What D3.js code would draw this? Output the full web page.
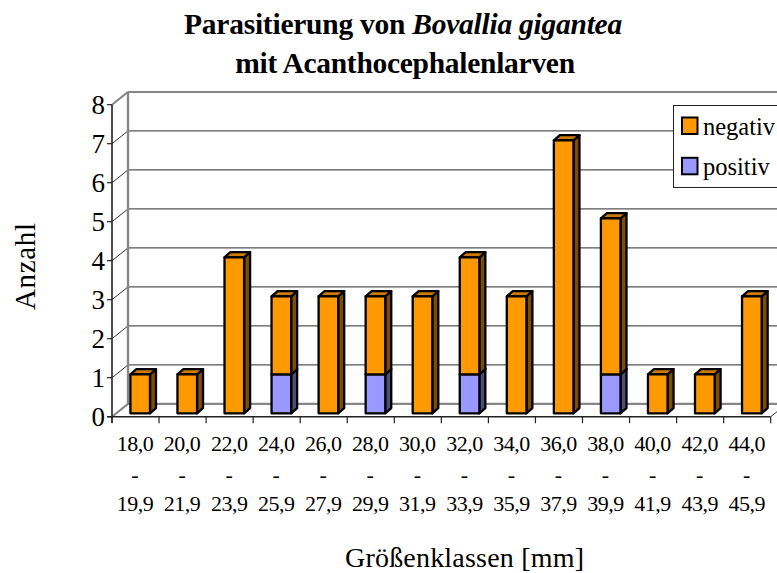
<!DOCTYPE html>
<html><head><meta charset="utf-8">
<script src="https://d3js.org/d3.v7.min.js"></script>
<style>html,body{margin:0;padding:0;background:#fff;overflow:hidden}svg{display:block}text{font-family:"Liberation Serif",serif;fill:#000}</style>
</head><body><div id="c"></div>
<script>
const lower = ["18,0","20,0","22,0","24,0","26,0","28,0","30,0","32,0","34,0","36,0","38,0","40,0","42,0","44,0"];
const upper = ["19,9","21,9","23,9","25,9","27,9","29,9","31,9","33,9","35,9","37,9","39,9","41,9","43,9","45,9"];
const negativ = [1,1,4,2,3,2,3,3,3,7,4,1,1,3];
const positiv = [0,0,0,1,0,1,0,1,0,0,1,0,0,0];
const yTicks = [0,1,2,3,4,5,6,7,8];
const seriesNames = ["negativ","positiv"];

const W=777,H=573;
const svg=d3.select("#c").append("svg").attr("width",W).attr("height",H);
const x=d3.scaleBand().domain(lower).range([112,770.7]);
const y=d3.scaleLinear().domain([0,8]).range([416.7,104.7]);
const wall={dx:16,dy:-12.8}, barD={dx:6,dy:-5.2}, base={dx:0,dy:-3.4};
const barW=19.6, barOff=18.4;
const gray="#868686", orange={f:"#FF9900",t:"#CC7A00",s:"#7F4D00"}, blue={f:"#9999FF",t:"#7A7ACC",s:"#4D4D80"};

const x0=x.range()[0], x1=x.range()[1];
const line=(a,b,c,d,col,w)=>svg.append("line").attr("x1",a).attr("y1",b).attr("x2",c).attr("y2",d).attr("stroke",col).attr("stroke-width",w);
yTicks.forEach(v=>{
  const yy=y(v);
  if(v>0&&v<8){
    line(x0+wall.dx,yy+wall.dy,W,yy+wall.dy,"#555",1.2);
    line(x0,yy,x0+wall.dx,yy+wall.dy,"#333",1);
  }
});
line(x0+wall.dx,y(8)+wall.dy,W,y(8)+wall.dy,gray,2);
line(x0+wall.dx,y(0)+wall.dy,W,y(0)+wall.dy,gray,2.4);
line(x0+wall.dx,y(8)+wall.dy,x0+wall.dx,y(0)+wall.dy,gray,2.4);
line(x0,y(8),x0+wall.dx,y(8)+wall.dy,gray,2);
line(x0,y(0),x0+wall.dx,y(0)+wall.dy,gray,2);
line(x1,y(0),x1+wall.dx,y(0)+wall.dy,"#333",1);

function prism(g,left,bot,top,c){
  const r=left+barW,d=barD;
  const st={stroke:"#000","stroke-width":2.3,"stroke-linejoin":"round"};
  const poly=(pts,fill)=>{const p=g.append("polygon").attr("points",pts.map(q=>q.join(",")).join(" ")).attr("fill",fill);
    Object.entries(st).forEach(([k,v])=>p.attr(k,v));};
  poly([[r,bot],[r+d.dx,bot+d.dy],[r+d.dx,top+d.dy],[r,top]],c.s);
  poly([[left,top],[left+d.dx,top+d.dy],[r+d.dx,top+d.dy],[r,top]],c.t);
  poly([[left,bot],[r,bot],[r,top],[left,top]],c.f);
}
const gBars=svg.append("g");
lower.forEach((k,i)=>{
  const left=x(k)+barOff, yb=v=>y(v)+base.dy;
  if(positiv[i]>0) prism(gBars,left,yb(0),yb(positiv[i]),blue);
  prism(gBars,left,yb(positiv[i]),yb(positiv[i]+negativ[i]),orange);
});

line(x0,y(8),x0,y(0)+6,"#222",1.6);
line(x0-5,y(0),x1,y(0),"#222",1.6);
yTicks.forEach(v=>{
  line(x0-5,y(v),x0,y(v),"#222",1.2);
  svg.append("text").attr("x",x0-7).attr("y",y(v)+9).attr("text-anchor","end").attr("font-size",27).text(v);
});
x.domain().concat(["end"]).forEach(k=>{
  const xx=k==="end"?x1:x(k);
  line(xx,y(0),xx,y(0)+6.5,"#222",1.2);
});
lower.forEach((k,i)=>{
  const cx=x(k)+x.bandwidth()/2-0.5;
  [[k,451],["-",482],[upper[i],511]].forEach(([t,yy])=>{
    const el=svg.append("text").attr("x",cx).attr("y",yy).attr("text-anchor","middle").attr("font-size",22).text(t);
    if(t!=="-") el.attr("letter-spacing",-0.5);
  });
});

svg.append("rect").attr("x",673.5).attr("y",105.5).attr("width",W).attr("height",82).attr("fill","#fff").attr("stroke","#222").attr("stroke-width",1);
seriesNames.forEach((n,i)=>{
  const yy=117.5+i*40.3;
  svg.append("rect").attr("x",682).attr("y",yy).attr("width",15.5).attr("height",16.5).attr("fill",i?blue.f:orange.f).attr("stroke","#000").attr("stroke-width",2);
  svg.append("text").attr("x",703).attr("y",yy+17.5).attr("font-size",24.5).text(n);
});

const t1=svg.append("text").attr("x",403).attr("y",33.5).attr("text-anchor","middle").attr("font-size",29.5).attr("font-weight","bold").attr("letter-spacing",-0.25);
t1.append("tspan").text("Parasitierung von ");
t1.append("tspan").attr("font-style","italic").text("Bovallia gigantea");
svg.append("text").attr("x",405).attr("y",72.5).attr("text-anchor","middle").attr("font-size",29.5).attr("font-weight","bold").attr("letter-spacing",-0.28).text("mit Acanthocephalenlarven");
svg.append("text").attr("transform","translate(35,266.5) rotate(-90)").attr("text-anchor","middle").attr("font-size",29).attr("textLength",87).text("Anzahl");
svg.append("text").attr("x",464.5).attr("y",566.8).attr("text-anchor","middle").attr("font-size",28).attr("textLength",239).text("Größenklassen [mm]");
</script></body></html>
